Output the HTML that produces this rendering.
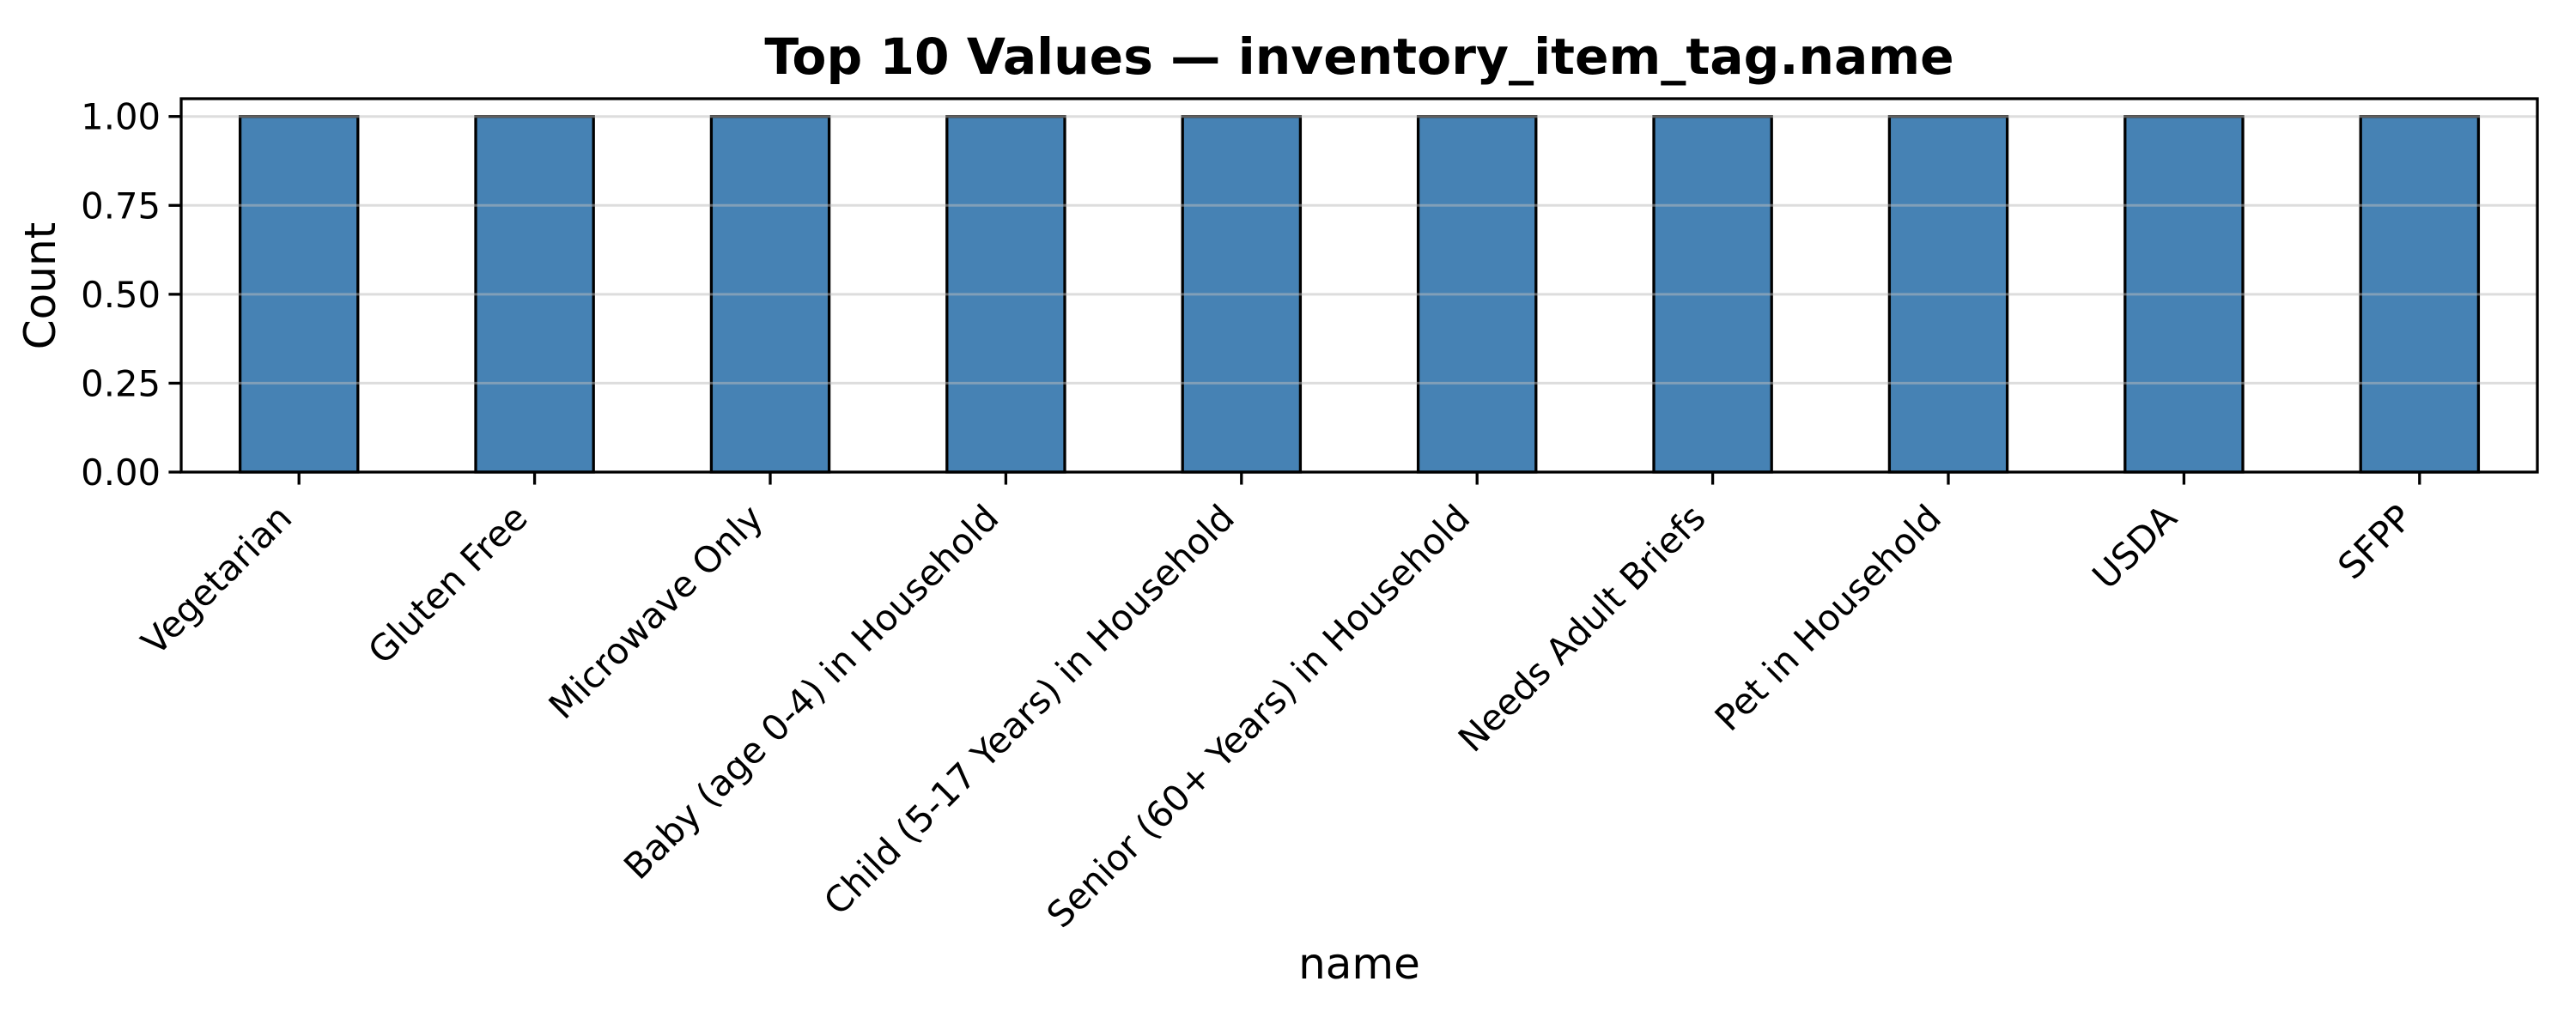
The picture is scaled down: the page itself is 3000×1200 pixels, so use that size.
<!DOCTYPE html>
<html><head><meta charset="utf-8"><style>
html,body{margin:0;padding:0;background:#fff;}
svg{display:block;font-family:"DejaVu Sans","Liberation Sans",sans-serif;}
</style></head><body>
<svg id="chart" width="3000" height="1200" viewBox="0 0 3000 1200">
<text x="1583" y="86" text-anchor="middle" font-size="58.3" font-weight="bold">Top 10 Values — inventory_item_tag.name</text>
<text x="1583" y="1140" text-anchor="middle" font-size="50">name</text>
<text transform="translate(64,333) rotate(-90)" text-anchor="middle" font-size="50">Count</text>
<g id="bars"></g>
<g id="grid"></g>
<g id="yticks"></g>
<g id="xticks"></g>
<rect x="211" y="115" width="2744" height="435" fill="none" stroke="#000" stroke-width="3.3"/>
</svg>
<script>
const categories = ["Vegetarian","Gluten Free","Microwave Only","Baby (age 0-4) in Household","Child (5-17 Years) in Household","Senior (60+ Years) in Household","Needs Adult Briefs","Pet in Household","USDA","SFPP"];
const counts = [1,1,1,1,1,1,1,1,1,1];
const yTicks = [0,0.25,0.5,0.75,1.0];
const yTickLabels = ["0.00","0.25","0.50","0.75","1.00"];

const NS="http://www.w3.org/2000/svg";
const L=211,R=2955,T=115,B=550,yMax=1.05;
const step=(R-L)/categories.length;
function xc(i){return L+step*(i+0.5);}
function y(v){return B-(v/yMax)*(B-T);}
function mk(tag,attrs,parent){const e=document.createElementNS(NS,tag);for(const k in attrs)e.setAttribute(k,attrs[k]);parent.appendChild(e);return e;}
const gb=document.getElementById('bars'),gg=document.getElementById('grid'),gy=document.getElementById('yticks'),gx=document.getElementById('xticks');
counts.forEach((v,i)=>{
  const bw=step*0.5;
  const r=mk('rect',{x:xc(i)-bw/2,y:y(v),width:bw,height:y(0)-y(v),fill:'#4682b4',stroke:'#000','stroke-width':3.3},gb);
  
  
});
yTicks.forEach((t,i)=>{
  const gl=mk('line',{x1:L,x2:R,y1:y(t),y2:y(t),stroke:'#bbb','stroke-opacity':0.5,'stroke-width':3},gg);
  
  
  const tk=mk('line',{x1:L-14.6,x2:L,y1:y(t),y2:y(t),stroke:'#000','stroke-width':3.3},gy);
  
  
  const tx=mk('text',{x:L-24,y:y(t)+15,'text-anchor':'end','font-size':41.7},gy);
  tx.textContent=yTickLabels[i];
  
  
});
categories.forEach((c,i)=>{
  const x=xc(i);
  const tk=mk('line',{x1:x,x2:x,y1:B,y2:B+14.6,stroke:'#000','stroke-width':3.3},gx);
  
  
  const ax=x-6,ay=606;
  const tx=mk('text',{x:ax,y:ay,'text-anchor':'end','font-size':41.7,transform:`rotate(-45 ${ax} ${ay})`},gx);
  tx.textContent=c;
  
  
});
</script>
</body></html>
